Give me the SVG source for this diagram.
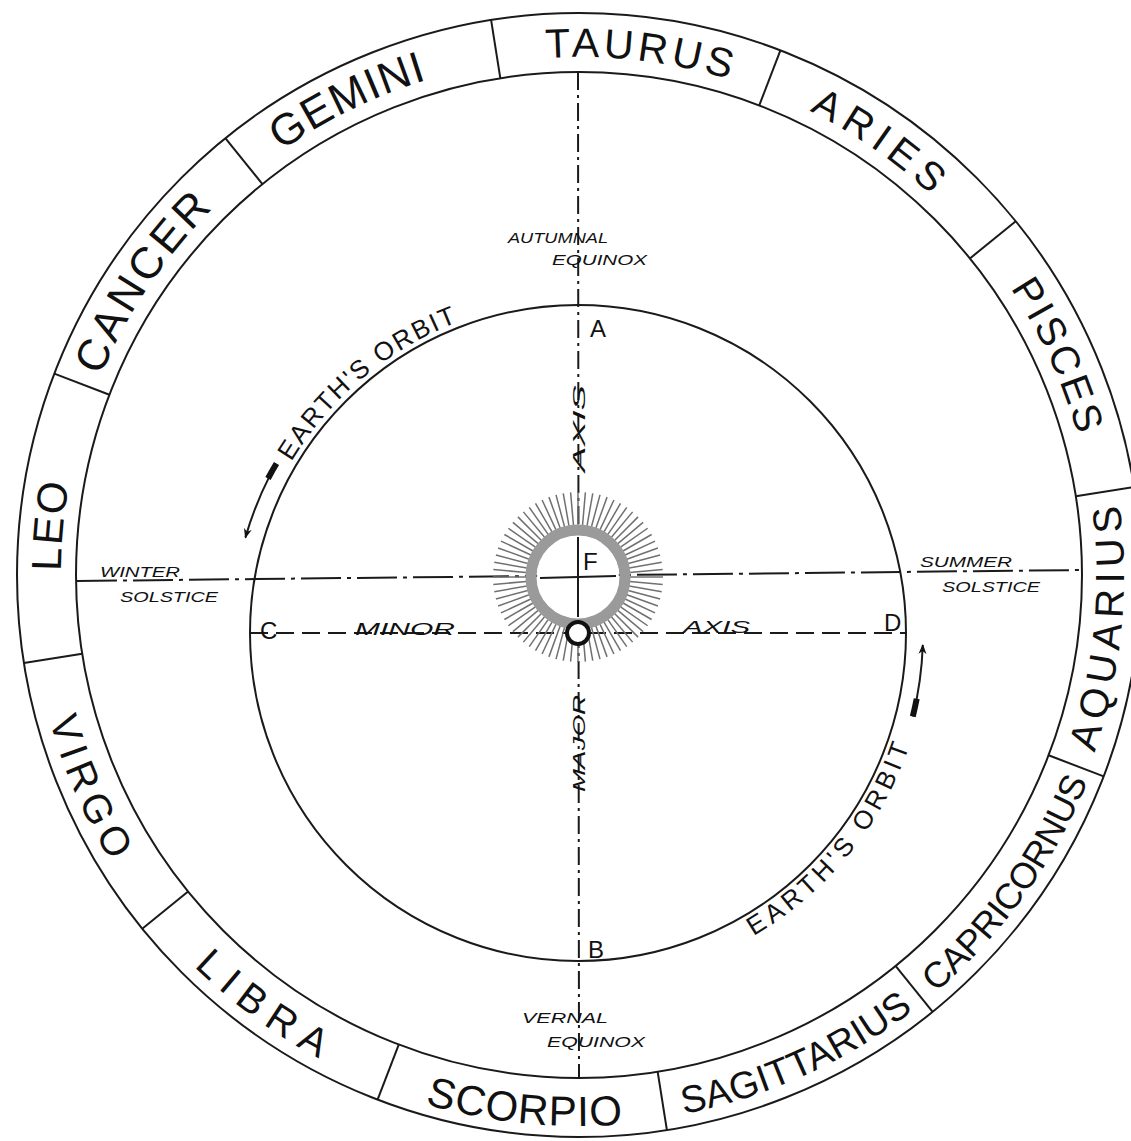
<svg xmlns="http://www.w3.org/2000/svg" width="1131" height="1141" viewBox="0 0 1131 1141">
<style>
.ln{fill:none;stroke:#1a1a1a;stroke-width:2}
.dv{stroke:#1a1a1a;stroke-width:2}
.zod{font-family:"Liberation Sans",Arial,sans-serif;fill:#111;text-anchor:middle}
.orb{font-family:"Liberation Sans",Arial,sans-serif;fill:#111;text-anchor:middle;font-size:26px}
.lbl{font-family:"Liberation Sans",Arial,sans-serif;font-style:italic;fill:#111;font-size:14px}
.ax{font-family:"Liberation Sans",Arial,sans-serif;font-style:italic;fill:#111;font-size:16px}
.big{font-family:"Liberation Sans",Arial,sans-serif;fill:#111;font-size:24px}
.ray{stroke:#707070;stroke-width:1.5}
.dashdot{fill:none;stroke:#1a1a1a;stroke-width:2;stroke-dasharray:18 5 3 5}
.hdash{fill:none;stroke:#1a1a1a;stroke-width:2;stroke-dasharray:40 6 4 6}
.dash{fill:none;stroke:#1a1a1a;stroke-width:2;stroke-dasharray:18 8}
</style>
<defs>
<marker id="ah" viewBox="0 0 10 8" refX="9" refY="4" markerWidth="10" markerHeight="8" markerUnits="userSpaceOnUse" orient="auto">
<path d="M0,0 L10,4 L0,8 L3,4 Z" fill="#111"/>
</marker>
<line id="ray" x1="0" y1="-52" x2="0" y2="-85" class="ray"/>
<g id="ray4"><use href="#ray"/><use href="#ray" transform="rotate(5)"/><use href="#ray" transform="rotate(10)"/><use href="#ray" transform="rotate(15)"/></g>
<path id="pTaurus" d="M375.0,98.9 A518,518 0 0 1 889.3,160.2"/>
<path id="pAries" d="M624.1,59.0 A518,518 0 0 1 1048.5,356.1"/>
<path id="pPisces" d="M879.8,153.3 A518,518 0 0 1 1094.6,624.6"/>
<path id="pAquarius" d="M1022.7,891.5 A545,545 0 0 0 1075.0,349.0"/>
<path id="pCapricornus" d="M804.0,1075.7 A549,549 0 0 0 1125.2,630.5"/>
<path id="pSagittarius" d="M524.5,1121.3 A549,549 0 0 0 1024.8,895.3"/>
<path id="pScorpio" d="M256.7,1021.9 A551,551 0 0 0 804.9,1077.6"/>
<path id="pLibra" d="M77.9,799.2 A549,549 0 0 0 522.6,1121.1"/>
<path id="pVirgo" d="M33.3,514.8 A549,549 0 0 0 254.0,1017.4"/>
<path id="pLeo" d="M108.0,790.6 A518,518 0 0 1 156.8,274.9"/>
<path id="pCancer" d="M62.2,538.9 A518,518 0 0 1 351.9,109.4"/>
<path id="pGemini" d="M149.6,285.3 A518,518 0 0 1 615.2,58.2"/>
<path id="pOrbL" d="M249.1,575.0 A333,333 0 0 1 578,300"/>
<path id="pOrbR" d="M644.8,976.6 A350,350 0 0 0 927.9,626.9"/>
</defs>
<rect width="1131" height="1141" fill="#ffffff"/>

<g id="zodiac-ring">
<circle cx="579" cy="575" r="562" class="ln"/>
<circle cx="579" cy="575" r="503" class="ln"/>
<g transform="translate(579,575)">
<line x1="0" y1="-503" x2="0" y2="-562" class="dv" transform="rotate(-9)"/>
<line x1="0" y1="-503" x2="0" y2="-562" class="dv" transform="rotate(21)"/>
<line x1="0" y1="-503" x2="0" y2="-562" class="dv" transform="rotate(51)"/>
<line x1="0" y1="-503" x2="0" y2="-562" class="dv" transform="rotate(81)"/>
<line x1="0" y1="-503" x2="0" y2="-562" class="dv" transform="rotate(111)"/>
<line x1="0" y1="-503" x2="0" y2="-562" class="dv" transform="rotate(141)"/>
<line x1="0" y1="-503" x2="0" y2="-562" class="dv" transform="rotate(171)"/>
<line x1="0" y1="-503" x2="0" y2="-562" class="dv" transform="rotate(201)"/>
<line x1="0" y1="-503" x2="0" y2="-562" class="dv" transform="rotate(231)"/>
<line x1="0" y1="-503" x2="0" y2="-562" class="dv" transform="rotate(261)"/>
<line x1="0" y1="-503" x2="0" y2="-562" class="dv" transform="rotate(291)"/>
<line x1="0" y1="-503" x2="0" y2="-562" class="dv" transform="rotate(321)"/>
</g>
</g>

<g id="taurus"><text class="zod" font-size="41" letter-spacing="4"><textPath href="#pTaurus" startOffset="50%">TAURUS</textPath></text></g>
<g id="aries"><text class="zod" font-size="40" letter-spacing="7"><textPath href="#pAries" startOffset="50%">ARIES</textPath></text></g>
<g id="pisces"><text class="zod" font-size="40" letter-spacing="3"><textPath href="#pPisces" startOffset="50%">PISCES</textPath></text></g>
<g id="aquarius"><text class="zod" font-size="40" letter-spacing="6"><textPath href="#pAquarius" startOffset="50%">AQUARIUS</textPath></text></g>
<g id="capricornus"><text class="zod" font-size="36" letter-spacing="-0.3"><textPath href="#pCapricornus" startOffset="50%">CAPRICORNUS</textPath></text></g>
<g id="sagittarius"><text class="zod" font-size="38" letter-spacing="0.4"><textPath href="#pSagittarius" startOffset="50%">SAGITTARIUS</textPath></text></g>
<g id="scorpio"><text class="zod" font-size="42" letter-spacing="1"><textPath href="#pScorpio" startOffset="50%">SCORPIO</textPath></text></g>
<g id="libra"><text class="zod" font-size="40" letter-spacing="10"><textPath href="#pLibra" startOffset="50%">LIBRA</textPath></text></g>
<g id="virgo"><text class="zod" font-size="40" letter-spacing="6.5"><textPath href="#pVirgo" startOffset="50%">VIRGO</textPath></text></g>
<g id="leo"><text class="zod" font-size="42" letter-spacing="2"><textPath href="#pLeo" startOffset="50%">LEO</textPath></text></g>
<g id="cancer"><text class="zod" font-size="44" letter-spacing="3.4"><textPath href="#pCancer" startOffset="50%">CANCER</textPath></text></g>
<g id="gemini"><text class="zod" font-size="44" letter-spacing="1.2"><textPath href="#pGemini" startOffset="50%">GEMINI</textPath></text></g>

<g id="connectors">
<line x1="578" y1="72" x2="579" y2="1078" class="dashdot"/>
<line x1="77" y1="581" x2="1082" y2="570" class="hdash"/>
<line x1="250" y1="633" x2="907" y2="633" class="dash"/>
<path d="M269.7,475.9 A348,348 0 0 0 245.4,537.6" class="ln" stroke-width="1.6" marker-end="url(#ah)"/>
<path d="M276.5,463.5 A348,348 0 0 0 268.0,478.5" fill="none" stroke="#111" stroke-width="6"/>
<path d="M912.8,716.5 A345,345 0 0 0 922.8,645.0" class="ln" stroke-width="1.6" marker-end="url(#ah)"/>
<path d="M912.8,716.5 A345,345 0 0 0 916.7,698.8" fill="none" stroke="#111" stroke-width="6"/>
</g>

<g id="orbit">
<circle cx="578" cy="633" r="328" class="ln"/>
<text class="orb" letter-spacing="2"><textPath href="#pOrbL" startOffset="50%">EARTH'S ORBIT</textPath></text>
<text class="orb" font-size="27" letter-spacing="4.5"><textPath href="#pOrbR" startOffset="50%">EARTH'S ORBIT</textPath></text>
</g>

<g id="sun">
<g transform="translate(578,577)">
<use href="#ray4"/><use href="#ray4" transform="rotate(20)"/><use href="#ray4" transform="rotate(40)"/><use href="#ray4" transform="rotate(60)"/><use href="#ray4" transform="rotate(80)"/><use href="#ray4" transform="rotate(100)"/>
<use href="#ray4" transform="rotate(120)"/><use href="#ray4" transform="rotate(140)"/><use href="#ray4" transform="rotate(160)"/><use href="#ray4" transform="rotate(180)"/><use href="#ray4" transform="rotate(200)"/><use href="#ray4" transform="rotate(220)"/>
<use href="#ray4" transform="rotate(240)"/><use href="#ray4" transform="rotate(260)"/><use href="#ray4" transform="rotate(280)"/><use href="#ray4" transform="rotate(300)"/><use href="#ray4" transform="rotate(320)"/><use href="#ray4" transform="rotate(340)"/>
<circle cx="0" cy="0" r="47" fill="none" stroke="#9a9a9a" stroke-width="11"/>
<circle cx="0" cy="0" r="41" fill="#ffffff"/>
<line x1="-38" y1="1" x2="38" y2="-1" stroke="#1a1a1a" stroke-width="2"/>
<line x1="0" y1="-40" x2="0" y2="40" stroke="#1a1a1a" stroke-width="2"/>
</g>
<text class="big" x="583" y="570" font-size="22">F</text>
</g>

<g id="focus-o">
<circle cx="578" cy="633" r="11" fill="#ffffff" stroke="#111" stroke-width="4"/>
</g>

<g id="points">
<text class="big" x="590" y="337">A</text>
<text class="big" x="588" y="958">B</text>
<text class="big" x="260" y="639">C</text>
<text class="big" x="884" y="631">D</text>
</g>

<g id="labels">
<text class="lbl" x="508" y="243" textLength="100" lengthAdjust="spacingAndGlyphs">AUTUMNAL</text>
<text class="lbl" x="552" y="265" textLength="95" lengthAdjust="spacingAndGlyphs">EQUINOX</text>
<text class="lbl" x="100" y="577" textLength="80" lengthAdjust="spacingAndGlyphs">WINTER</text>
<text class="lbl" x="120" y="602" textLength="98" lengthAdjust="spacingAndGlyphs">SOLSTICE</text>
<text class="lbl" x="920" y="567" textLength="92" lengthAdjust="spacingAndGlyphs">SUMMER</text>
<text class="lbl" x="942" y="592" textLength="98" lengthAdjust="spacingAndGlyphs">SOLSTICE</text>
<text class="lbl" x="522" y="1023" textLength="86" lengthAdjust="spacingAndGlyphs">VERNAL</text>
<text class="lbl" x="547" y="1047" textLength="98" lengthAdjust="spacingAndGlyphs">EQUINOX</text>
<text class="ax" x="355" y="635" textLength="100" lengthAdjust="spacingAndGlyphs">MINOR</text>
<text class="ax" x="683" y="633" textLength="67" lengthAdjust="spacingAndGlyphs">AXIS</text>
<text class="ax" transform="translate(585,472) rotate(-90)" textLength="87" lengthAdjust="spacingAndGlyphs">AXIS</text>
<text class="ax" transform="translate(585,792) rotate(-90)" textLength="97" lengthAdjust="spacingAndGlyphs">MAJOR</text>
</g>
</svg>
